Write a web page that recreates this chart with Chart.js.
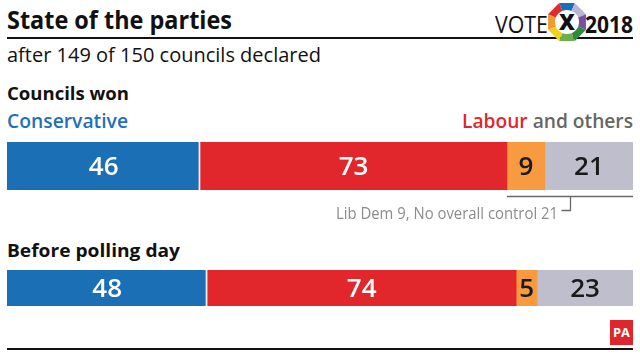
<!DOCTYPE html>
<html>
<head>
<meta charset="utf-8">
<script src="https://cdn.jsdelivr.net/npm/chart.js@4"></script>
<style>
  html,body{margin:0;padding:0;background:#fff;}
  #page{position:relative;width:640px;height:355px;overflow:hidden;font-family:"Open Sans",sans-serif;}
  .t{position:absolute;white-space:nowrap;line-height:1;display:inline-block;transform-origin:0 0;}
  canvas{position:absolute;}
  .rule{position:absolute;left:7px;width:626px;background:#111;}
</style>
</head>
<body>
<div id="page">
  <div class="t" id="title" style="font-weight:700;color:#111;">State of the parties</div>
  <div class="rule" style="top:37px;height:2px;"></div>
  <div class="t" id="sub" style="color:#111;">after 149 of 150 councils declared</div>
  <div class="t" id="h1" style="font-weight:700;color:#111;">Councils won</div>
  <div class="t" id="con" style="font-weight:600;color:#1f70b6;">Conservative</div>
  <div class="t" id="lab" style="font-weight:600;color:#666;"><span style="color:#e0262d;">Labour</span> and others</div>
  <canvas id="c1" width="626" height="80" style="left:7px;top:142px;"></canvas>
  <div class="t" id="note" style="font-weight:400;color:#8c8c8c;">Lib Dem 9, No overall control 21</div>
  <div class="t" id="h2" style="font-weight:700;color:#111;">Before polling day</div>
  <canvas id="c2" width="626" height="36" style="left:7px;top:270px;"></canvas>
  <div class="rule" style="top:348px;height:2px;"></div>
  <div class="t" id="vote" style="font-weight:400;color:#111;">VOTE</div>
  <div class="t" id="yr" style="font-weight:700;color:#111;">2018</div>
  <svg id="logo" width="42" height="42" style="position:absolute;left:546px;top:1px;" viewBox="0 0 42 42"></svg>
  <div style="position:absolute;left:610px;top:320px;width:23px;height:25px;background:#e0262d;"></div>
  <div class="t" id="pa" style="font-weight:700;color:#fff;">PA</div>
</div>
<script>
// ---- data ----
const parties = ["Conservative", "Labour", "Lib Dem", "No overall control"];
const councilsWon = [46, 73, 9, 21];
const beforePolling = [48, 74, 5, 23];
const partyColors = ["#1b6fb5", "#e1262c", "#f89b40", "#bfbecd"];
const labelColors = ["#ffffff", "#ffffff", "#1a1a1a", "#1a1a1a"];

// ---- text layout (size by height, squeeze to width, place by baseline) ----
const layout = [
  {id:"title", x:7, base:29, w:225, s:25},
  {id:"sub", x:7, base:62, w:314, s:20.5},
  {id:"h1", x:7, base:100, w:122, s:18.5},
  {id:"con", x:7, base:129, w:121, s:20},
  {id:"lab", right:633, base:129, w:171, s:20},
  {id:"note", right:558, base:220, w:222, s:16.5},
  {id:"h2", x:7, base:257, w:173, s:18.5},
  {id:"vote", x:495, base:33, w:53, s:23},
  {id:"yr", right:633, base:33, w:48, s:23},
  {id:"pa", x:613, base:338, w:17, s:13},
];
function place(){
  layout.forEach(o=>{
    const el=document.getElementById(o.id);
    el.style.fontSize=o.s+"px";
    const m=el.getBoundingClientRect().width;
    const k=o.w/m;
    el.style.transform="scaleX("+k.toFixed(4)+")";
    el.style.left=(o.x!==undefined?o.x:o.right-o.w)+"px";
    el.style.top=(o.base-0.888*o.s)+"px";
  });
}
place();

// ---- logo octagon ----
(function(){
  const svg=document.getElementById("logo");
  const cx=21,cy=21,R=20.5,r=12;
  const cols=["#1b6fb5","#b9b6d8","#7a4ea1","#2f8a3c","#6bb04b","#f0d11c","#f39a2e","#e02b2b"];
  const ns="http://www.w3.org/2000/svg";
  for(let k=0;k<8;k++){
    const a1=(-112.5+45*k)*Math.PI/180, a2=(-67.5+45*k)*Math.PI/180;
    const pts=[[R,a1],[R,a2],[r,a2],[r,a1]].map(([rr,a])=>(cx+rr*Math.cos(a)).toFixed(2)+","+(cy+rr*Math.sin(a)).toFixed(2)).join(" ");
    const p=document.createElementNS(ns,"polygon");
    p.setAttribute("points",pts);p.setAttribute("fill",cols[k]);
    svg.appendChild(p);
  }
  const bg=document.createElementNS(ns,"circle");
  bg.setAttribute("cx",cx);bg.setAttribute("cy",cy);bg.setAttribute("r",r);bg.setAttribute("fill","#fff");
  svg.appendChild(bg);
  const t=document.createElementNS(ns,"text");
  t.setAttribute("x",cx);t.setAttribute("y",cy+8);t.setAttribute("text-anchor","middle");
  t.setAttribute("font-family","Open Sans");t.setAttribute("font-weight","800");t.setAttribute("font-size","22");
  t.setAttribute("fill","#111");t.textContent="X";
  svg.appendChild(t);
})();

// ---- charts ----
const segLabels={
  id:"segLabels",
  afterDatasetsDraw(chart,args,opts){
    const ctx=chart.ctx;
    ctx.save();
    ctx.font="600 "+opts.size+"px 'Open Sans'";
    ctx.textAlign="center";ctx.textBaseline="alphabetic";
    chart.data.datasets.forEach((ds,i)=>{
      const el=chart.getDatasetMeta(i).data[0];
      const cxp=(el.x+el.base)/2;
      ctx.fillStyle=labelColors[i];
      ctx.fillText(String(ds.data[0]),cxp,el.y+opts.size*0.357);
    });
    ctx.restore();
  }
};
const bracket={
  id:"bracket",
  afterDraw(chart,args,opts){
    if(!opts.on)return;
    const ctx=chart.ctx, xs=chart.scales.x, area=chart.chartArea;
    const x0=xs.getPixelForValue(councilsWon[0]+councilsWon[1]);
    const x1=area.right;
    const xm=Math.round((x0+x1)/2)+0.5;
    const y0=area.bottom+6.5, y1=area.bottom+20.5;
    ctx.save();
    ctx.strokeStyle="#6a6a6a";ctx.lineWidth=1.3;
    ctx.beginPath();
    ctx.moveTo(x0,y0);ctx.lineTo(x1,y0);
    ctx.moveTo(xm,y0);ctx.lineTo(xm,y1);ctx.lineTo(xm-9,y1);
    ctx.stroke();
    ctx.restore();
  }
};
function makeBar(id,values,total,padBottom,withBracket){
  return new Chart(document.getElementById(id),{
    type:"bar",
    data:{
      labels:[""],
      datasets:parties.map((p,i)=>({
        label:p,
        data:[values[i]],
        backgroundColor:partyColors[i],
        borderColor:"#eeeef3",
        borderWidth:i===0?{right:2,left:0,top:0,bottom:0}:0,
        borderSkipped:false,
        barPercentage:1,
        categoryPercentage:1
      }))
    },
    options:{
      indexAxis:"y",
      responsive:false,
      animation:false,
      layout:{padding:{left:0,right:0,top:0,bottom:padBottom}},
      plugins:{
        legend:{display:false},
        tooltip:{enabled:false},
        segLabels:{size:26},
        bracket:{on:withBracket}
      },
      scales:{
        x:{stacked:true,min:0,max:total,display:false},
        y:{stacked:true,display:false}
      }
    },
    plugins:[segLabels,bracket]
  });
}
makeBar("c1",councilsWon,councilsWon.reduce((a,b)=>a+b,0),32,true);
makeBar("c2",beforePolling,beforePolling.reduce((a,b)=>a+b,0),0,false);
</script>
</body>
</html>
